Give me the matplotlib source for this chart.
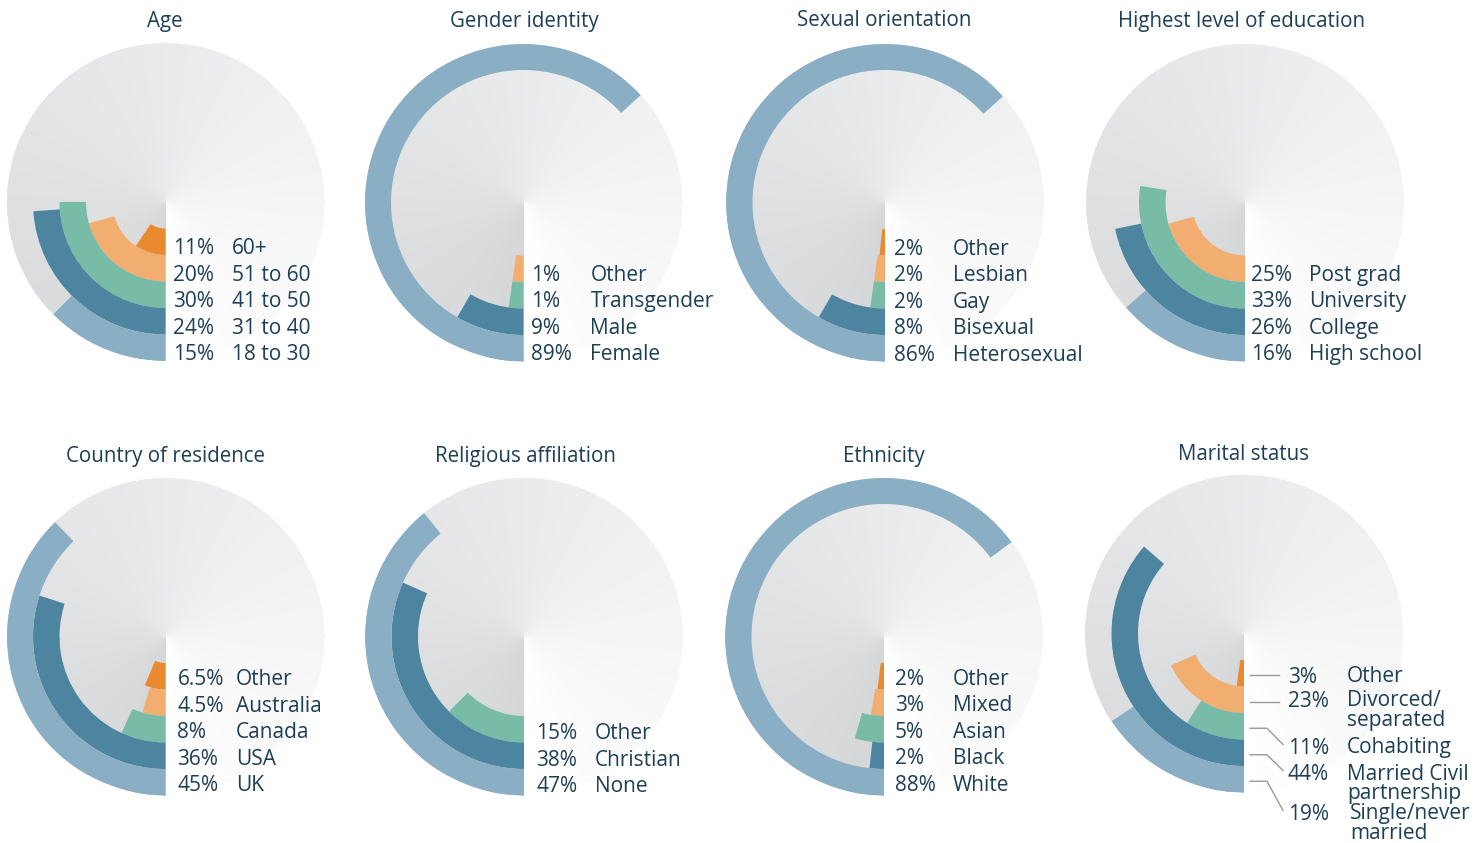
import numpy as np
import matplotlib.pyplot as plt
from matplotlib.colors import LinearSegmentedColormap
from matplotlib.lines import Line2D

W, H = 1477, 843
R_PX = 159           # outer radius of every disc, pixels
RINGS = 6            # disc radius measured in ring widths
TEXT = '#1d3f56'
PALETTE = ['#ea8a30', '#f2ae70', '#78bba6', '#4d84a0', '#8aaec4']  # inner -> outer
BG = LinearSegmentedColormap.from_list('bg', ['#d5d6d8', '#ffffff'])

plt.rcParams['font.family'] = ['Open Sans', 'DejaVu Sans']

# --- data (innermost ring first). arc = sweep of each bar as drawn, degrees ---
age_cats = ['60+', '51 to 60', '41 to 50', '31 to 40', '18 to 30']
age_pct = [11, 20, 30, 24, 15]
age_arc = [34, 74.5, 90, 86, 45]

gender_cats = ['Other', 'Transgender', 'Male', 'Female']
gender_pct = [1, 1, 9, 89]
gender_arc = [8, 8, 30, 227.5]

sexual_cats = ['Other', 'Lesbian', 'Gay', 'Bisexual', 'Heterosexual']
sexual_pct = [2, 2, 2, 8, 86]
sexual_arc = [6, 8, 8, 30, 228]

edu_cats = ['Post grad', 'University', 'College', 'High school']
edu_pct = [25, 33, 26, 16]
edu_arc = [74.5, 99, 78.5, 48.5]

country_cats = ['Other', 'Australia', 'Canada', 'USA', 'UK']
country_pct = [6.5, 4.5, 8, 36, 45]
country_arc = [23, 17, 24.5, 108, 136]

religion_cats = ['Other', 'Christian', 'None']
religion_pct = [15, 38, 47]
religion_arc = [45, 114, 141]

eth_cats = ['Other', 'Mixed', 'Asian', 'Black', 'White']
eth_pct = [2, 3, 5, 2, 88]
eth_arc = [7, 9.5, 16, 6.3, 233.5]

marital_cats = ['Other', 'Divorced/\nseparated', 'Cohabiting',
                'Married Civil\npartnership', 'Single/never\nmarried']
marital_pct = [3, 23, 11, 44, 19]
marital_arc = [8, 66.5, 32.5, 131, 56.5]

charts = [
    ('Age', age_cats, age_pct, age_arc),
    ('Gender identity', gender_cats, gender_pct, gender_arc),
    ('Sexual orientation', sexual_cats, sexual_pct, sexual_arc),
    ('Highest level of education', edu_cats, edu_pct, edu_arc),
    ('Country of residence', country_cats, country_pct, country_arc),
    ('Religious affiliation', religion_cats, religion_pct, religion_arc),
    ('Ethnicity', eth_cats, eth_pct, eth_arc),
    ('Marital status', marital_cats, marital_pct, marital_arc),
]

# layout, pixels: disc centre, title centre, label x offsets, label y shift
centres = [(165.5, 202), (523.5, 202.5), (885, 202.5), (1245, 202.5),
           (165.5, 636.5), (524, 636.5), (884, 636.5), (1244, 633.5)]
title_xy = [(165, 21), (524, 21), (884, 21), (1242, 21),
            (165, 456), (525, 456), (884, 456), (1244, 454)]
label_dx = [(7.5, 66.5), (8, 67), (9, 68), (6, 64),
            (12, 70.5), (12.5, 71), (11, 69), (44, 103)]
label_dy = [7, 6.5, 7, 6.5, 3.5, 4.5, 3, 0]

fig = plt.figure(figsize=(W / 100, H / 100), dpi=100)


def px(x, y):
    return x / W, 1 - y / H


for k, (title, cats, pct, arc) in enumerate(charts):
    cx, cy = centres[k]
    ax = fig.add_axes([(cx - R_PX) / W, 1 - (cy + R_PX) / H, 2 * R_PX / W, 2 * R_PX / H],
                      projection='polar')
    ax.set_theta_zero_location('S')
    ax.set_theta_direction(-1)
    ax.set_axis_off()

    # conic grey background
    th = np.linspace(0, 2 * np.pi, 361)
    rr = np.array([0, RINGS])
    ax.pcolormesh(th, rr, th[:-1][None, :], cmap=BG, shading='flat',
                  vmin=0, vmax=2 * np.pi)

    n = len(cats)
    colors = PALETTE[-n:]
    r0 = np.arange(RINGS - n, RINGS)
    ax.bar(np.zeros(n), np.ones(n), width=np.deg2rad(arc), bottom=r0,
           align='edge', color=colors, linewidth=0)
    ax.set_ylim(0, RINGS)

    fig.text(*px(*title_xy[k]), title, ha='center', va='center',
             fontsize=14.8, color=TEXT)

    dx1, dx2 = label_dx[k]
    ring_y = cy + (r0 + 0.5) * R_PX / RINGS
    if k < 7:
        for i in range(n):
            y = ring_y[i] + label_dy[k]
            fig.text(*px(cx + dx1, y), f'{pct[i]:g}%', ha='left', va='center',
                     fontsize=15, color=TEXT)
            fig.text(*px(cx + dx2, y), cats[i], ha='left', va='center',
                     fontsize=15, color=TEXT)
    else:
        text_y = cy + np.array([44, 68, 115, 141, 181])
        for i in range(n):
            ly = ring_y[i] + 2
            ty = text_y[i]
            if ty - ly > 6:
                xs = [cx + 6, cx + 23, cx + 39]
                ys = [ly, ly, ty - 4]
            else:
                xs = [cx + 6, cx + 35]
                ys = [ly, ly]
            fig.add_artist(Line2D([x / W for x in xs], [1 - y / H for y in ys],
                                  transform=fig.transFigure, color='#9a9a9a', lw=1))
            fig.text(*px(cx + dx1, ty), f'{pct[i]:g}%', ha='left', va='center',
                     fontsize=15, color=TEXT)
            fig.text(*px(cx + dx2 + (3 if i == 4 else 0), ty - 11), cats[i],
                     ha='left', va='top', fontsize=15, color=TEXT, linespacing=0.9)

fig.savefig('out.png', dpi=100, facecolor='white')
